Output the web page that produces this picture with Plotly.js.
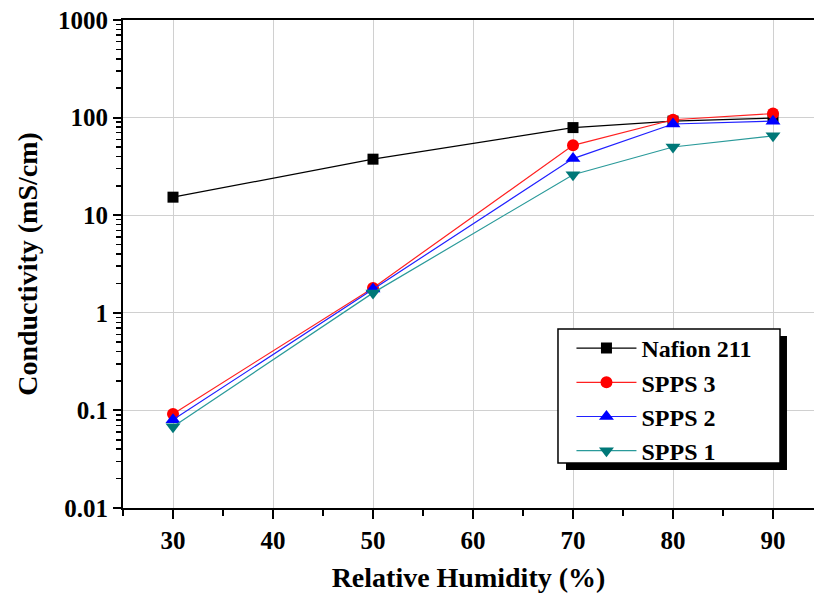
<!DOCTYPE html>
<html>
<head>
<meta charset="utf-8">
<script src="https://cdn.plot.ly/plotly-3.0.1.min.js"></script>
<style>html,body{margin:0;padding:0;background:#fff;}#chart{width:814px;height:601px;}</style>
</head>
<body>
<div id="chart"></div>
<script>
const humidity = [30, 50, 70, 80, 90];
const nafion211 = [15.3, 37.5, 79, 92, 99];
const spps3 = [0.092, 1.8, 52, 95, 110];
const spps2 = [0.08, 1.75, 38, 86, 92];
const spps1 = [0.068, 1.6, 26, 50, 65];
const seriesNames = ["Nafion 211", "SPPS 3", "SPPS 2", "SPPS 1"];
const xTickVals = [30, 40, 50, 60, 70, 80, 90];
const yTickVals = [0.01, 0.1, 1, 10, 100, 1000];
const yTickText = ["0.01", "0.1", "1", "10", "100", "1000"];

const font = "Liberation Serif, Times New Roman, serif";

function tr(name, y, color, lineColor, symbol, size) {
  return {
    x: humidity, y: y, name: name, type: "scatter", mode: "lines+markers",
    line: {color: lineColor, width: 1.2},
    marker: {color: color, symbol: symbol, size: size, line: {width: 0}}
  };
}

const data = [
  tr(seriesNames[0], nafion211, "#000000", "#000000", "square", 11),
  tr(seriesNames[1], spps3, "#ff0000", "#ff2020", "circle", 12),
  tr(seriesNames[2], spps2, "#0000ff", "#2020ff", "triangle-up", 13),
  tr(seriesNames[3], spps1, "#007878", "#2a9a9a", "triangle-down", 13)
];

const layout = {
  width: 814, height: 601,
  margin: {l: 123, r: 0, t: 20, b: 93},
  paper_bgcolor: "#ffffff", plot_bgcolor: "#ffffff",
  showlegend: true,
  xaxis: {
    range: [25, 94.1], tickvals: xTickVals,
    ticks: "outside", ticklen: 9, tickwidth: 2, tickcolor: "#000",
    showline: true, linecolor: "#000", linewidth: 2, mirror: true,
    showgrid: true, gridcolor: "#d0d0d0", gridwidth: 1, zeroline: false,
    minor: {dtick: 5, tick0: 25, ticks: "outside", ticklen: 6, tickwidth: 2, tickcolor: "#000", showgrid: false},
    tickfont: {family: font, size: 25, color: "#000", weight: "bold"},
    title: {text: "<b>Relative Humidity (%)</b>", font: {family: font, size: 28, color: "#000"}, standoff: 14}
  },
  yaxis: {
    type: "log", range: [-2, 3], tickvals: yTickVals, ticktext: yTickText,
    ticks: "outside", ticklen: 8, tickwidth: 2, tickcolor: "#000",
    showline: true, linecolor: "#000", linewidth: 2,
    showgrid: true, gridcolor: "#d0d0d0", gridwidth: 1, zeroline: false,
    minor: {dtick: "D1", ticks: "outside", ticklen: 5, tickwidth: 1.5, tickcolor: "#000", showgrid: false},
    tickfont: {family: font, size: 25, color: "#000", weight: "bold"},
    title: {text: "<b>Conductivity (mS/cm)</b>", font: {family: font, size: 28, color: "#000"}, standoff: 12}
  },
  legend: {
    x: 0.649, y: 0.373, xanchor: "left", yanchor: "top",
    bgcolor: "rgba(0,0,0,0)", borderwidth: 0,
    itemwidth: 60,
    font: {family: font, size: 24, color: "#000", weight: "bold"},
    tracegroupgap: 0
  },
  shapes: [
    {type: "rect", xref: "paper", yref: "paper", x0: 0.6411, x1: 0.9609, y0: 0.0779, y1: 0.3525,
     fillcolor: "#000", line: {width: 0}, layer: "above"},
    {type: "rect", xref: "paper", yref: "paper", x0: 0.6295, x1: 0.9508, y0: 0.0922, y1: 0.3668,
     fillcolor: "#fff", line: {color: "#000", width: 1.5}, layer: "above"}
  ]
};

Plotly.newPlot("chart", data, layout, {displayModeBar: false, staticPlot: true});
</script>
</body>
</html>
